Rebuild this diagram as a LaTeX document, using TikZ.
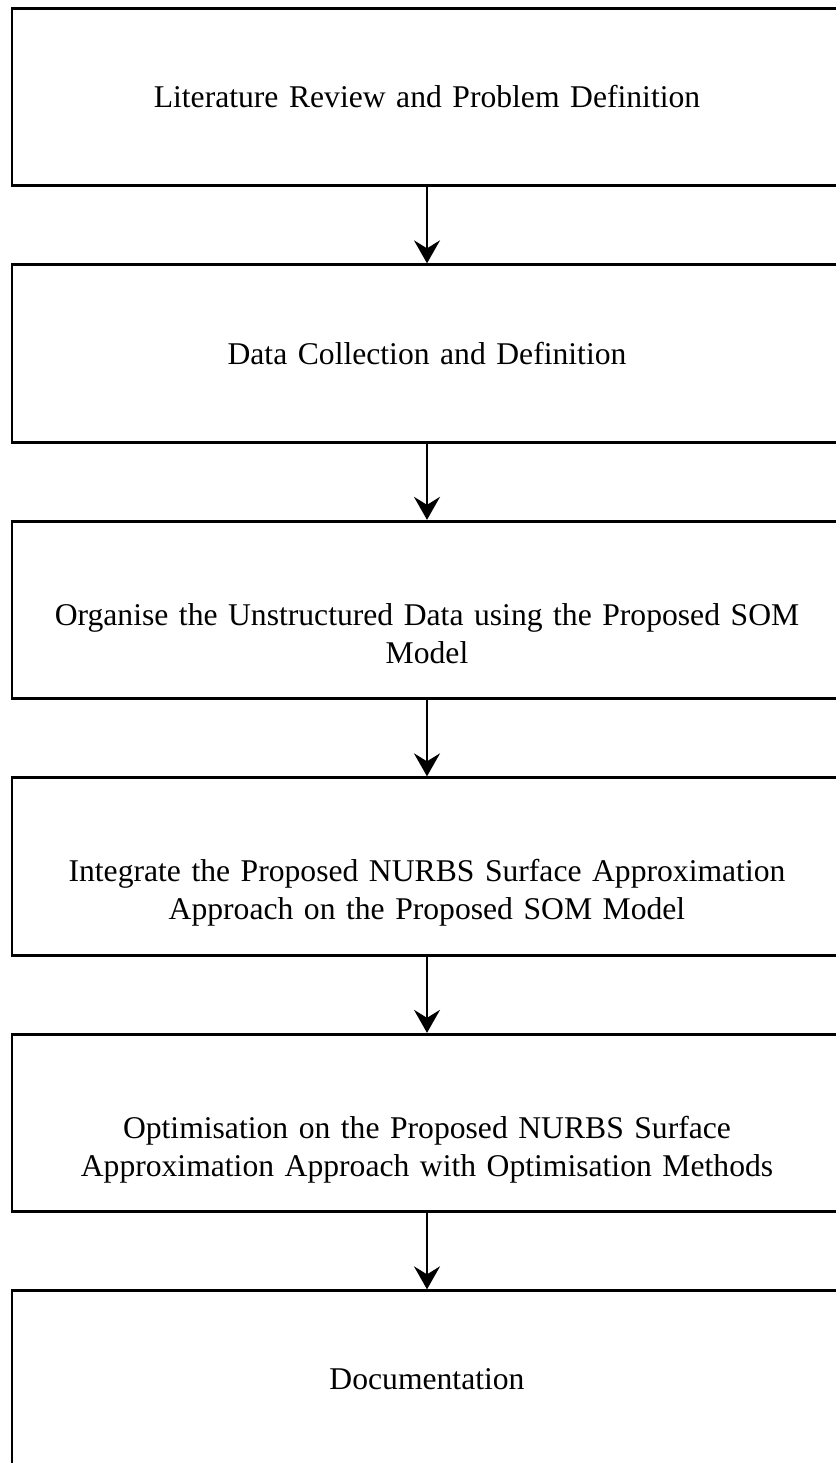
\documentclass[tikz,border=0pt]{standalone}
\usepackage{fontspec}
\setmainfont{Liberation Serif}
\usetikzlibrary{arrows.meta}

\tikzset{stage/.style={draw, line width=1.6pt, minimum width=16.6cm, minimum height=3.55cm, inner sep=1mm, text width=16cm, align=center, font=\fontsize{18}{21.8}\selectfont},
    lowered/.style={text height=6mm, text depth=0pt},
    flow/.style={-{Stealth[length=4.6mm, width=5.2mm, inset=1.6mm]}, line width=1.2pt}}

\begin{document}
\begin{tikzpicture}[]
    \useasboundingbox (0,0) rectangle (16.7,-29.26);

    \node[stage] (review) at (8.54,-1.94) {Literature Review and Problem Definition};
    
    \node[stage] (data) at ([yshift=-5.13cm] review) {Data Collection and Definition};
    
    \node[stage, lowered] (som) at ([yshift=-5.13cm] data) {Organise the Unstructured Data using the Proposed SOM\\ Model};
    
    \node[stage, lowered] (nurbs) at ([yshift=-5.13cm] som) {Integrate the Proposed NURBS Surface Approximation\\ Approach on the Proposed SOM Model};
    
    \node[stage, lowered] (optim) at ([yshift=-5.13cm] nurbs) {Optimisation on the Proposed NURBS Surface\\ Approximation Approach with Optimisation Methods};
    
    \node[stage] (docs) at ([yshift=-5.13cm] optim) {Documentation};
    
    
    \draw[flow] (review) -- (data);
    \draw[flow] (data) -- (som);
    \draw[flow] (som) -- (nurbs);
    \draw[flow] (nurbs) -- (optim);
    \draw[flow] (optim) -- (docs);
    
    \end{tikzpicture}
\end{document}
